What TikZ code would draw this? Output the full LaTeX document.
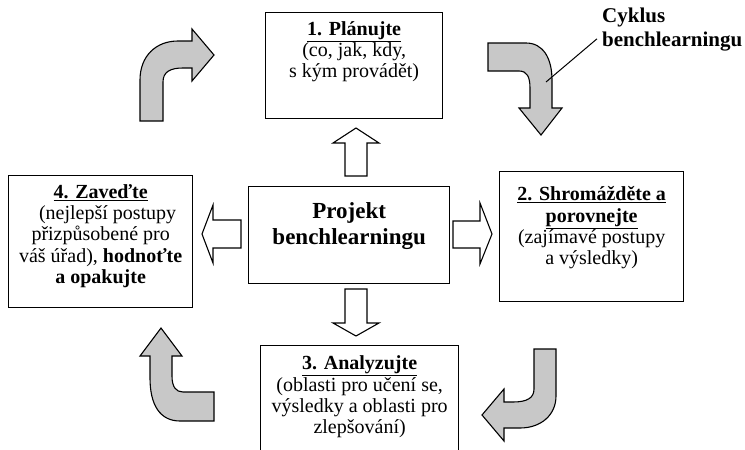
\documentclass[tikz,border=0pt]{standalone}
\usepackage{fontspec}
\setmainfont{Liberation Serif}
\newcommand\bxtext{\fontsize{20}{21.4}\selectfont\lineskiplimit=-100pt\relax}
\newcommand\steptitle[1]{\textbf{\underline{#1}}}
% #1 width, #2 height, #3 first baseline below the top edge, #4 text
\newcommand\stepbody[4]{\parbox[c][#2][t]{#1}{\centering\bxtext\rule{0pt}{#3}#4}}
\begin{document}
\begin{tikzpicture}[x=1pt,y=-1pt,
  box/.style={draw, line width=1.3pt, inner sep=0pt, anchor=north west, fill=white},
  blockarrow/.style={draw, line width=1.1pt, fill=white, line join=miter},
  turnarrow/.style={draw, line width=1.1pt, fill=cyclegray, line join=miter},
  cyclelabel/.style={font=\fontsize{21}{24}\selectfont\bfseries, align=left, anchor=north west, inner sep=0pt},
]
\definecolor{cyclegray}{RGB}{200,200,200}
\useasboundingbox (0,0) rectangle (745,450);
\clip (0,0) rectangle (745,450);

% the four steps of the cycle
\node[box] (plan) at (265,12) {\stepbody{177pt}{106pt}{22.5pt}{%
  \steptitle{1. Plánujte}\\(co, jak, kdy,\\s kým provádět)}};
\node[box] (gather) at (499,171) {\stepbody{184pt}{130pt}{29pt}{%
  \steptitle{2. Shromážděte a}\\\steptitle{porovnejte}\\(zajímavé postupy\\a výsledky)}};
\node[box] (analyse) at (260,345) {\stepbody{198pt}{125pt}{24pt}{%
  \steptitle{3. Analyzujte}\\(oblasti pro učení se,\\výsledky a oblasti pro\\zlepšování)}};
\node[box] (adapt) at (8,175) {\stepbody{184pt}{132pt}{22.5pt}{%
  \steptitle{4. Zaveďte}\\\rule{14pt}{0pt}(nejlepší postupy\\přizpůsobené pro\\váš úřad), \textbf{hodnoťte}\\\textbf{a opakujte}}};

% central project box
\node[box] (project) at (248,186) {\parbox[c][97pt][t]{201pt}{\centering
  \fontsize{23}{26}\selectfont\bfseries\lineskiplimit=-100pt\relax
  \rule{0pt}{32pt}Projekt\\benchlearningu}};

% outlined block arrows from the project to the steps
\draw[blockarrow] (345,176) -- (345,143) -- (333,143) -- (356,128) -- (379,143)
  -- (367,143) -- (367,176) -- cycle;
\draw[blockarrow] (345,289) -- (345,323) -- (333,323) -- (356,336) -- (379,323)
  -- (367,323) -- (367,289) -- cycle;
\draw[blockarrow] (241,220) -- (213,220) -- (213,205) -- (202,234) -- (213,263)
  -- (213,248) -- (241,248) -- cycle;
\draw[blockarrow] (453,221) -- (480,221) -- (480,203) -- (492,234) -- (480,264)
  -- (480,248) -- (453,248) -- cycle;

% grey turning arrows of the cycle
\draw[turnarrow] (140,121) -- (140,80) .. controls (140,56) and (156,41) .. (178,41)
  -- (192,41) -- (192,29) -- (214,55) -- (192,81) -- (192,68) -- (183,68)
  .. controls (170,68) and (163,72) .. (163,82) -- (163,121) -- cycle;
\draw[turnarrow] (488,43) -- (526,43) .. controls (543,43) and (552,58) .. (552,80)
  -- (552,108) -- (562,108) -- (541,135) -- (519,108) -- (530,108) -- (530,88)
  .. controls (530,77) and (527,71) .. (519,71) -- (488,71) -- cycle;
\draw[turnarrow] (534,349) -- (556,349) -- (556,396) .. controls (556,415) and (541,428) .. (520,428)
  -- (504,428) -- (504,441) -- (482,415) -- (504,389) -- (504,402) -- (513,402)
  .. controls (527,402) and (534,398) .. (534,389) -- cycle;
\draw[turnarrow] (214,392) -- (214,421) -- (180,421) .. controls (160,421) and (150,405) .. (150,378)
  -- (150,356) -- (140,356) -- (161,328) -- (182,356) -- (172,356) -- (172,376)
  .. controls (172,387) and (176,392) .. (183,392) -- cycle;

% cycle caption with its pointer
\node[cyclelabel] (cycle) at (602,8) {Cyklus\\benchlearningu};
\coordinate (hook) at (546,82);
\draw[line width=1pt] ([xshift=-5pt,yshift=-9pt]cycle.west) -- (hook);
\end{tikzpicture}
\end{document}
